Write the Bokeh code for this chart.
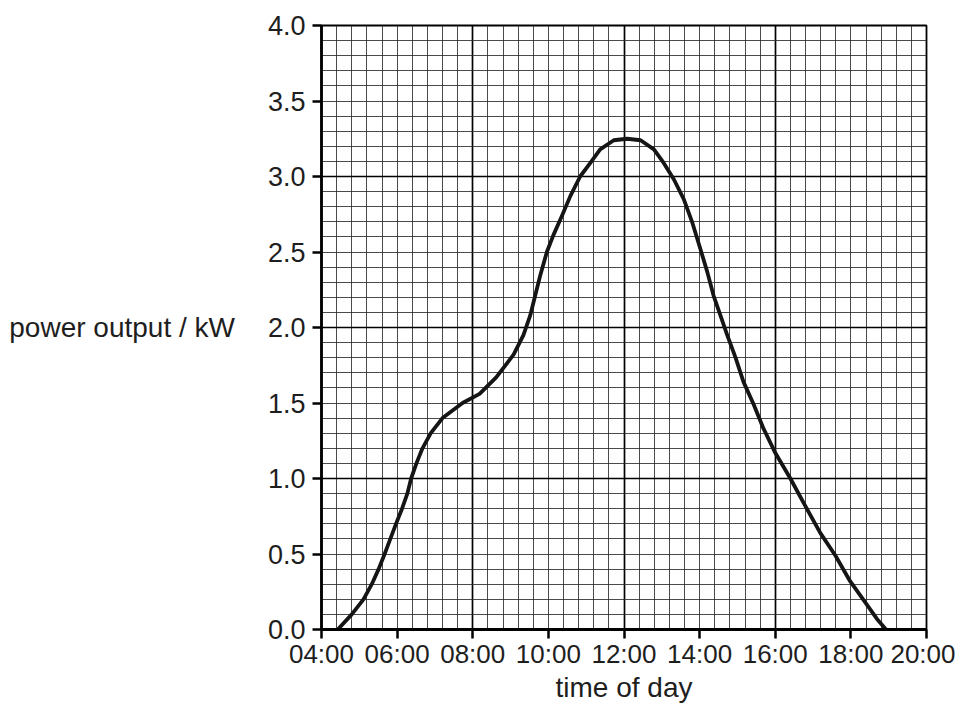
from bokeh.plotting import figure
from bokeh.models import FixedTicker, Range1d, ColumnDataSource
from bokeh.embed import file_html
from bokeh.resources import INLINE

# data (hour of day, kW)
hours = [4.43, 4.8, 5.11, 5.33, 5.51, 5.67, 5.82, 5.97, 6.13, 6.27, 6.37, 6.51, 6.67,
         6.89, 7.2, 7.73, 8.18, 8.62, 9.08, 9.34, 9.52, 9.65, 9.79, 9.96, 10.13,
         10.36, 10.58, 10.84, 11.11, 11.37, 11.73, 12.08, 12.44, 12.79, 13.05, 13.32,
         13.58, 13.80, 14.02, 14.20, 14.37, 14.55, 14.73, 14.95, 15.16, 15.43, 15.69,
         16.0, 16.40, 16.79, 17.19, 17.59, 17.98, 18.38, 18.69, 18.93]
power = [0.0, 0.1, 0.2, 0.3, 0.4, 0.5, 0.6, 0.7, 0.8, 0.9, 1.0, 1.1, 1.2,
         1.3, 1.4, 1.5, 1.56, 1.67, 1.82, 1.95, 2.08, 2.21, 2.35, 2.50, 2.61,
         2.74, 2.87, 3.0, 3.09, 3.18, 3.24, 3.25, 3.24, 3.18, 3.09, 2.98,
         2.85, 2.70, 2.52, 2.37, 2.21, 2.08, 1.95, 1.80, 1.64, 1.49, 1.33,
         1.17, 1.0, 0.82, 0.64, 0.49, 0.32, 0.18, 0.07, 0.0]

x_ticks = [4, 6, 8, 10, 12, 14, 16, 18, 20]
x_tick_labels = ["04:00", "06:00", "08:00", "10:00", "12:00", "14:00", "16:00", "18:00", "20:00"]
y_ticks = [0.0, 0.5, 1.0, 1.5, 2.0, 2.5, 3.0, 3.5, 4.0]
y_tick_labels = ["0.0", "0.5", "1.0", "1.5", "2.0", "2.5", "3.0", "3.5", "4.0"]
x_title = "time of day"
y_title = "power output / kW"

FONT = "Liberation Sans"
TEXT_COLOR = "#1e1e1e"

p = figure(width=955, height=705, output_backend="svg", toolbar_location=None,
           x_range=Range1d(4, 20), y_range=Range1d(0, 4),
           min_border_left=321, min_border_right=29, min_border_top=25, min_border_bottom=72)
p.background_fill_color = "white"
p.border_fill_color = "white"
p.outline_line_color = "black"
p.outline_line_width = 1.8

# graph-paper grid: major every 4 h / 1 kW, minor every 0.4 h / 0.1 kW
p.xgrid.ticker = FixedTicker(ticks=[4, 8, 12, 16, 20],
                             minor_ticks=[round(4 + 0.4 * i, 2) for i in range(41)])
p.ygrid.ticker = FixedTicker(ticks=[0, 1, 2, 3, 4],
                             minor_ticks=[round(0.1 * i, 2) for i in range(41)])
for g in (p.xgrid, p.ygrid):
    g.grid_line_color = "black"
    g.grid_line_width = 1.7
    g.grid_line_alpha = 1.0
    g.minor_grid_line_color = "#2a2a2a"
    g.minor_grid_line_width = 1
    g.minor_grid_line_alpha = 0.85

p.xaxis.ticker = FixedTicker(ticks=x_ticks)
p.xaxis.major_label_overrides = {t: l for t, l in zip(x_ticks, x_tick_labels)}
p.yaxis.ticker = FixedTicker(ticks=y_ticks)
p.yaxis.major_label_overrides = {t: l for t, l in zip(y_ticks, y_tick_labels)}

for ax in (p.xaxis, p.yaxis):
    ax.axis_line_color = "black"
    ax.axis_line_width = 2.8
    ax.major_tick_line_color = "black"
    ax.major_tick_line_width = 2.5
    ax.major_tick_in = 0
    ax.major_tick_out = 9
    ax.minor_tick_line_color = None
    ax.major_label_text_font = FONT
    ax.major_label_text_color = TEXT_COLOR
    ax.axis_label_text_font = FONT
    ax.axis_label_text_font_size = "28px"
    ax.axis_label_text_font_style = "normal"
    ax.axis_label_text_color = TEXT_COLOR

p.xaxis.major_label_text_font_size = "26px"
p.yaxis.major_label_text_font_size = "27px"

p.xaxis.axis_label = x_title
p.xaxis.major_label_standoff = 0
p.xaxis.axis_label_standoff = 0
p.yaxis.axis_label = y_title
p.yaxis.axis_label_orientation = "horizontal"
p.yaxis.major_label_standoff = 7
p.yaxis.axis_label_standoff = 30

src = ColumnDataSource(dict(x=hours, y=power))
p.line("x", "y", source=src, line_color="#151515", line_width=3.8, line_join="round",
       line_cap="round")

open("out.html", "w").write(file_html(p, INLINE))
